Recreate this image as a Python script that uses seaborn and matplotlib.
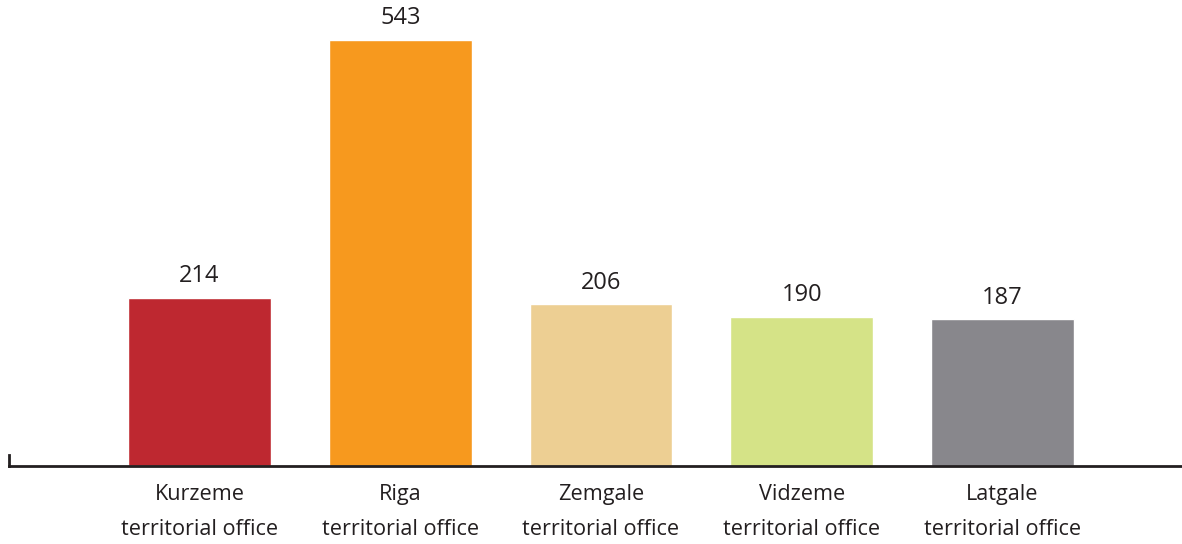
import seaborn as sns
import pandas as pd
import matplotlib.pyplot as plt

# 数据
offices = ['Kurzeme\nterritorial office', 'Riga\nterritorial office', 'Zemgale\nterritorial office',
           'Vidzeme\nterritorial office', 'Latgale\nterritorial office']
counts = [214, 543, 206, 190, 187]
colors = ['#BE2830', '#F7991E', '#EDCF93', '#D5E387', '#88878C']

sns.set_theme(style='white')
plt.rcParams['font.family'] = ['Open Sans', 'DejaVu Sans']

df = pd.DataFrame({'office': offices, 'count': counts})

fig = plt.figure(figsize=(11.82, 5.44), dpi=100)
ax = fig.add_axes([9 / 1182, 78 / 544, 1173 / 1182, 466 / 544])

sns.barplot(x='office', y='count', data=df, hue='office', palette=colors,
            legend=False, width=0.712, saturation=1, ax=ax)

for c in ax.containers:
    ax.bar_label(c, padding=7, fontsize=17, color='#231F20')

ax.set_xlim(-0.949, 4.894)
ax.set_ylim(0, 594)
ax.set_xlabel('')
ax.set_ylabel('')
ax.set_yticks([])

for s in ['top', 'right']:
    ax.spines[s].set_visible(False)
ax.spines['bottom'].set_linewidth(2)
ax.spines['bottom'].set_color('#231F20')
ax.spines['left'].set_linewidth(2)
ax.spines['left'].set_color('#231F20')
ax.spines['left'].set_bounds(0, 14)

ax.tick_params(axis='x', length=0, pad=13, labelsize=15.6, colors='#231F20')
for t in ax.get_xticklabels():
    t.set_linespacing(1.9)

fig.savefig('out.png', dpi=100)
